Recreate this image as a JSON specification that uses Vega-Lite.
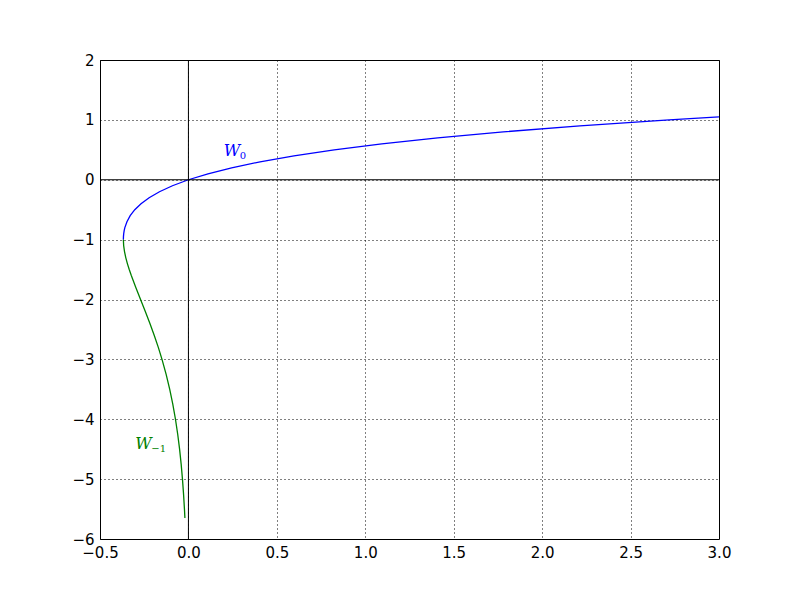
{
  "$schema": "https://vega.github.io/schema/vega-lite/v6.json",
  "width": 619,
  "height": 479,
  "autosize": "none",
  "padding": {"left": 100, "top": 60, "right": 81, "bottom": 61},
  "background": "white",
  "config": {
    "view": {"stroke": "black", "strokeWidth": 1},
    "axis": {
      "labelFont": "DejaVu Sans",
      "labelFontSize": 15,
      "labelColor": "black",
      "labelFlush": false,
      "labelOverlap": false,
      "domain": false,
      "ticks": false,
      "labelPadding": 6,
      "grid": true,
      "gridColor": "black",
      "gridOpacity": 1,
      "gridDash": [1, 3],
      "gridWidth": 1,
      "title": null
    }
  },
  "datasets": {
    "curves": [
      {"branch": "W0", "w": -1.0, "x": -0.3679, "y": -1.0},
      {"branch": "W0", "w": -0.95, "x": -0.3674, "y": -0.95},
      {"branch": "W0", "w": -0.9, "x": -0.3659, "y": -0.9},
      {"branch": "W0", "w": -0.85, "x": -0.3633, "y": -0.85},
      {"branch": "W0", "w": -0.8, "x": -0.3595, "y": -0.8},
      {"branch": "W0", "w": -0.7, "x": -0.3476, "y": -0.7},
      {"branch": "W0", "w": -0.6, "x": -0.3293, "y": -0.6},
      {"branch": "W0", "w": -0.5, "x": -0.3033, "y": -0.5},
      {"branch": "W0", "w": -0.4, "x": -0.2681, "y": -0.4},
      {"branch": "W0", "w": -0.3, "x": -0.2222, "y": -0.3},
      {"branch": "W0", "w": -0.2, "x": -0.1637, "y": -0.2},
      {"branch": "W0", "w": -0.1, "x": -0.0905, "y": -0.1},
      {"branch": "W0", "w": 0.0, "x": 0.0, "y": 0.0},
      {"branch": "W0", "w": 0.1, "x": 0.1105, "y": 0.1},
      {"branch": "W0", "w": 0.2, "x": 0.2443, "y": 0.2},
      {"branch": "W0", "w": 0.3, "x": 0.405, "y": 0.3},
      {"branch": "W0", "w": 0.4, "x": 0.5967, "y": 0.4},
      {"branch": "W0", "w": 0.5, "x": 0.8244, "y": 0.5},
      {"branch": "W0", "w": 0.6, "x": 1.0933, "y": 0.6},
      {"branch": "W0", "w": 0.7, "x": 1.4096, "y": 0.7},
      {"branch": "W0", "w": 0.8, "x": 1.7804, "y": 0.8},
      {"branch": "W0", "w": 0.9, "x": 2.2136, "y": 0.9},
      {"branch": "W0", "w": 1.0, "x": 2.7183, "y": 1.0},
      {"branch": "W0", "w": 1.0499, "x": 3.0, "y": 1.0499},
      {"branch": "W-1", "w": -1.0, "x": -0.3679, "y": -1.0},
      {"branch": "W-1", "w": -1.1, "x": -0.3662, "y": -1.1},
      {"branch": "W-1", "w": -1.2, "x": -0.3614, "y": -1.2},
      {"branch": "W-1", "w": -1.3, "x": -0.3543, "y": -1.3},
      {"branch": "W-1", "w": -1.4, "x": -0.3452, "y": -1.4},
      {"branch": "W-1", "w": -1.5, "x": -0.3347, "y": -1.5},
      {"branch": "W-1", "w": -1.6, "x": -0.323, "y": -1.6},
      {"branch": "W-1", "w": -1.8, "x": -0.2975, "y": -1.8},
      {"branch": "W-1", "w": -2.0, "x": -0.2707, "y": -2.0},
      {"branch": "W-1", "w": -2.2, "x": -0.2438, "y": -2.2},
      {"branch": "W-1", "w": -2.4, "x": -0.2177, "y": -2.4},
      {"branch": "W-1", "w": -2.6, "x": -0.1931, "y": -2.6},
      {"branch": "W-1", "w": -2.8, "x": -0.1703, "y": -2.8},
      {"branch": "W-1", "w": -3.0, "x": -0.1494, "y": -3.0},
      {"branch": "W-1", "w": -3.25, "x": -0.126, "y": -3.25},
      {"branch": "W-1", "w": -3.5, "x": -0.1057, "y": -3.5},
      {"branch": "W-1", "w": -3.75, "x": -0.0882, "y": -3.75},
      {"branch": "W-1", "w": -4.0, "x": -0.0733, "y": -4.0},
      {"branch": "W-1", "w": -4.25, "x": -0.0606, "y": -4.25},
      {"branch": "W-1", "w": -4.5, "x": -0.05, "y": -4.5},
      {"branch": "W-1", "w": -4.75, "x": -0.0411, "y": -4.75},
      {"branch": "W-1", "w": -5.0, "x": -0.0337, "y": -5.0},
      {"branch": "W-1", "w": -5.25, "x": -0.0276, "y": -5.25},
      {"branch": "W-1", "w": -5.5, "x": -0.0225, "y": -5.5},
      {"branch": "W-1", "w": -5.65, "x": -0.0199, "y": -5.65}
    ],
    "labels": [
      {"branch": "W0", "x": 0.2, "y": 0.4, "main": "W", "sub": "0"},
      {"branch": "W-1", "x": -0.3, "y": -4.5, "main": "W", "sub": "−1"}
    ],
    "zeros": [
      {"v": 0}
    ]
  },
  "layer": [
    {
      "data": {"name": "curves"},
      "mark": {"type": "line", "strokeWidth": 1.3, "clip": true},
      "encoding": {
        "x": {"field": "x", "type": "quantitative", "scale": {"domain": [-0.5, 3.0], "nice": false, "zero": false},
              "axis": {"values": [-0.5, 0, 0.5, 1, 1.5, 2, 2.5, 3], "format": ".1f", "labelExpr": "replace(datum.label, '-', '−')"}},
        "y": {"field": "y", "type": "quantitative", "scale": {"domain": [-6, 2], "nice": false, "zero": false},
              "axis": {"values": [-6, -5, -4, -3, -2, -1, 0, 1, 2], "format": "d", "labelExpr": "replace(datum.label, '-', '−')"}},
        "color": {"field": "branch", "type": "nominal", "scale": {"domain": ["W0", "W-1"], "range": ["#0000ff", "#008000"]}, "legend": null},
        "order": {"field": "w", "type": "quantitative"},
        "detail": {"field": "branch"}
      }
    },
    {
      "data": {"name": "zeros"},
      "mark": {"type": "rule", "color": "black", "strokeWidth": 1},
      "encoding": {"x": {"field": "v", "type": "quantitative"}}
    },
    {
      "data": {"name": "zeros"},
      "mark": {"type": "rule", "color": "black", "strokeWidth": 1},
      "encoding": {"y": {"field": "v", "type": "quantitative"}}
    },
    {
      "data": {"name": "labels"},
      "mark": {"type": "text", "font": "DejaVu Serif", "fontStyle": "italic", "fontSize": 16, "align": "left", "baseline": "alphabetic"},
      "encoding": {
        "x": {"field": "x", "type": "quantitative"},
        "y": {"field": "y", "type": "quantitative"},
        "text": {"field": "main"},
        "color": {"field": "branch", "type": "nominal", "legend": null}
      }
    },
    {
      "data": {"name": "labels"},
      "mark": {"type": "text", "font": "DejaVu Serif", "fontSize": 10, "align": "left", "baseline": "alphabetic", "dx": 16, "dy": 3},
      "encoding": {
        "x": {"field": "x", "type": "quantitative"},
        "y": {"field": "y", "type": "quantitative"},
        "text": {"field": "sub"},
        "color": {"field": "branch", "type": "nominal", "legend": null}
      }
    }
  ]
}
